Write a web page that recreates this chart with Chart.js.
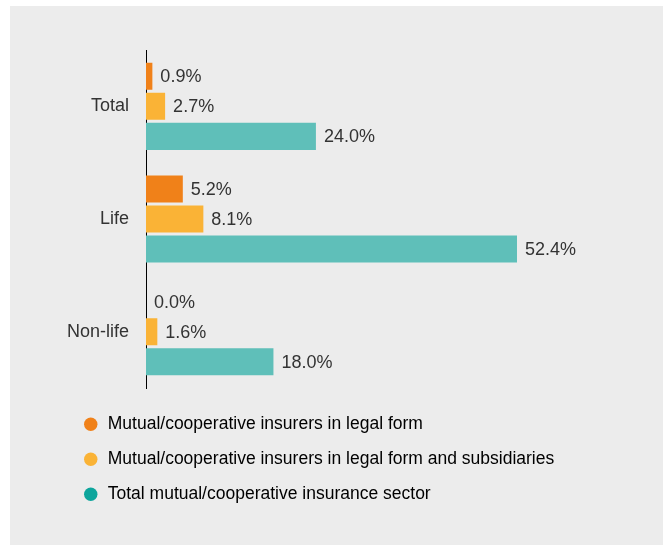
<!DOCTYPE html>
<html>
<head>
<meta charset="utf-8">
<script src="https://cdn.jsdelivr.net/npm/chart.js@4.4.0/dist/chart.umd.min.js"></script>
<style>
  body { margin: 0; background: #fff; }
  #box { position: absolute; left: 10px; top: 6px; width: 653px; height: 539px; background: #ececec; }
</style>
</head>
<body>
<div id="box"><canvas id="myChart" width="653" height="539"></canvas></div>
<script>
// categories + values (percent)
var categories = ["Total", "Life", "Non-life"];
var legal_form = [0.9, 5.2, 0.0];
var legal_subs = [2.7, 8.1, 1.6];
var total_sector = [24.0, 52.4, 18.0];
var series_names = [
  "Mutual/cooperative insurers in legal form",
  "Mutual/cooperative insurers in legal form and subsidiaries",
  "Total mutual/cooperative insurance sector"
];
var bar_colors = ["#f08119", "#fab336", "#5fbfb9"];
var dot_colors = ["#f08119", "#fab336", "#0da59c"];

var font_family = "'Liberation Sans', Arial, sans-serif";

// value labels at the end of each bar
const valueLabels = {
  id: "valueLabels",
  afterDatasetsDraw(chart) {
    const ctx = chart.ctx;
    ctx.save();
    ctx.font = "18px " + font_family;
    ctx.fillStyle = "#333";
    ctx.textAlign = "left";
    ctx.textBaseline = "middle";
    chart.data.datasets.forEach((ds, i) => {
      chart.getDatasetMeta(i).data.forEach((bar, j) => {
        ctx.fillText(ds.data[j].toFixed(1) + "%", bar.x + 8, bar.y + 1);
      });
    });
    ctx.restore();
  }
};

new Chart(document.getElementById("myChart"), {
  type: "bar",
  data: {
    labels: categories,
    datasets: [
      { label: series_names[0], data: legal_form, backgroundColor: bar_colors[0] },
      { label: series_names[1], data: legal_subs, backgroundColor: bar_colors[1] },
      { label: series_names[2], data: total_sector, backgroundColor: bar_colors[2] }
    ]
  },
  options: {
    indexAxis: "y",
    responsive: false,
    animation: false,
    categoryPercentage: 0.8,
    barPercentage: 0.9,
    layout: { padding: { top: 44, left: 55, right: 21.4, bottom: 32 } },
    scales: {
      x: {
        min: 0, max: 70,
        grid: { display: false },
        border: { display: false },
        ticks: { display: false },
        afterFit: (s) => { s.height = 10; }
      },
      y: {
        grid: { display: false, drawTicks: false },
        border: { display: true, color: "#000", width: 1 },
        ticks: { color: "#333", padding: 17, font: { size: 18, family: font_family } },
        afterFit: (s) => { s.width = 81; }
      }
    },
    plugins: {
      tooltip: { enabled: false },
      legend: {
        position: "bottom",
        align: "start",
        labels: {
          usePointStyle: true,
          boxWidth: 16.5,
          boxHeight: 9.5,
          padding: 17.5,
          color: "#333",
          font: { size: 17.5, family: font_family },
          generateLabels: (chart) => chart.data.datasets.map((ds, i) => ({
            text: ds.label,
            fillStyle: dot_colors[i],
            strokeStyle: dot_colors[i],
            lineWidth: 0,
            pointStyle: "circle",
            datasetIndex: i
          }))
        }
      }
    }
  },
  plugins: [valueLabels]
});
</script>
</body>
</html>
